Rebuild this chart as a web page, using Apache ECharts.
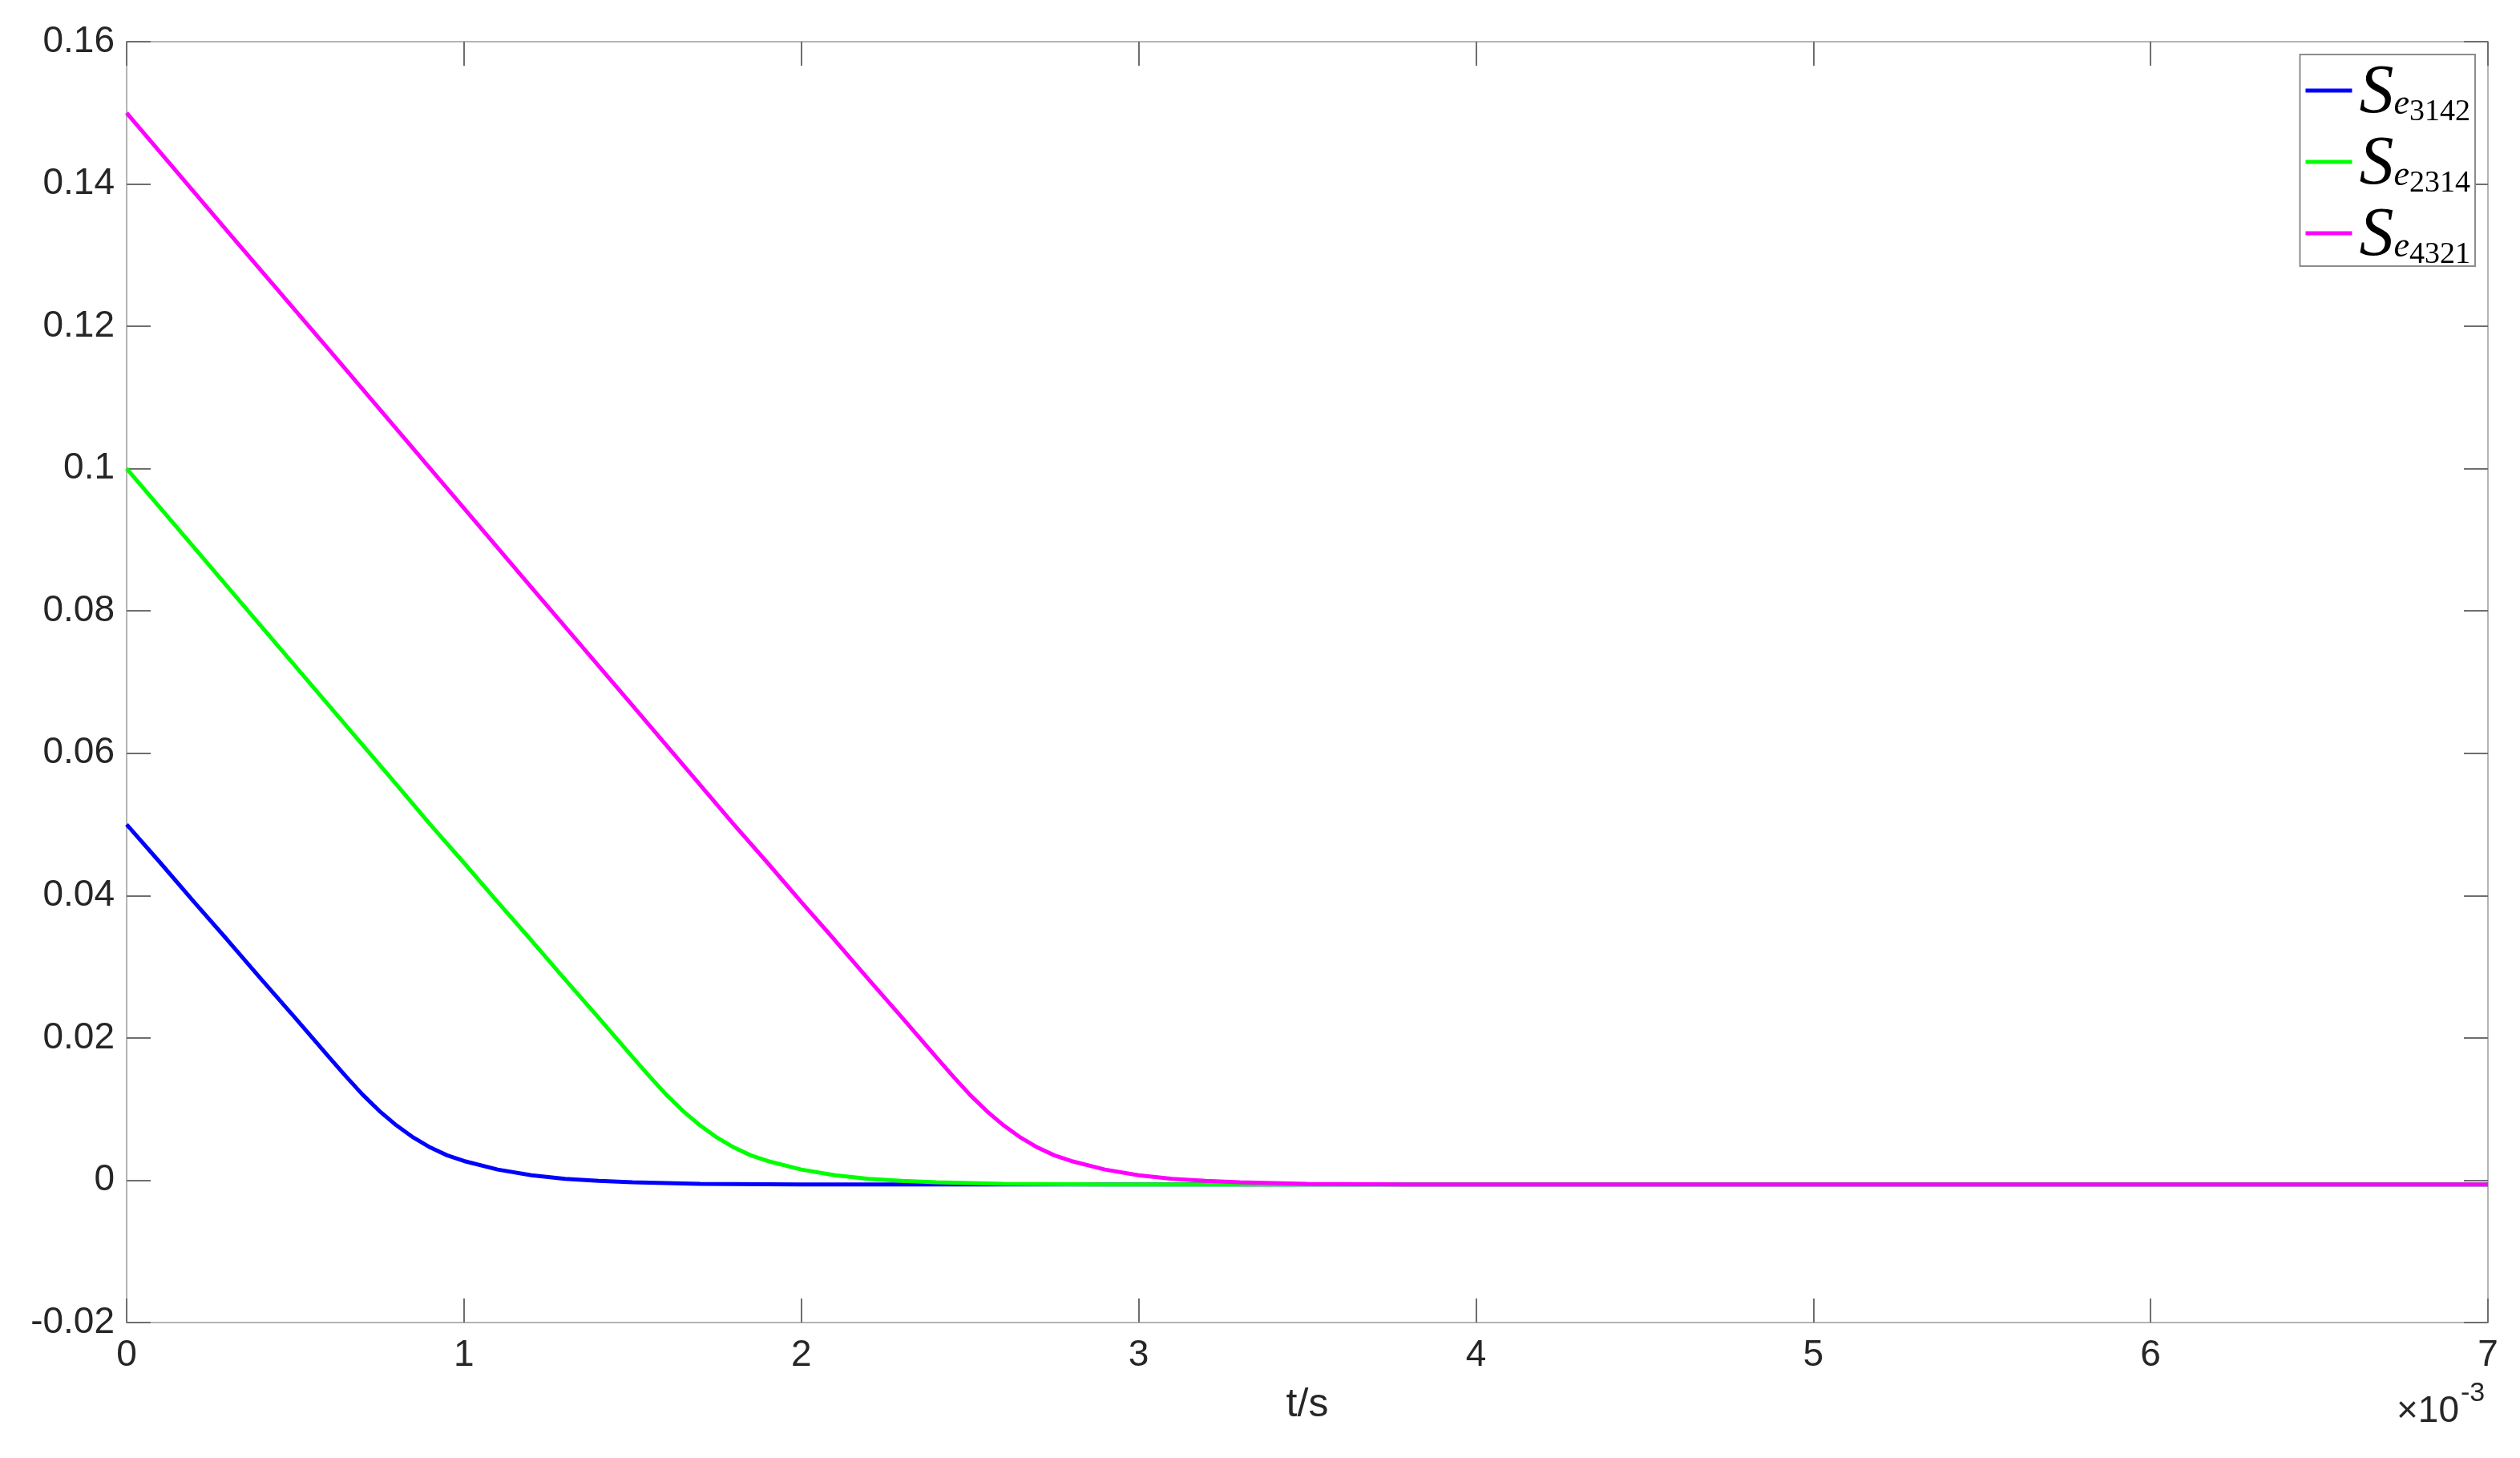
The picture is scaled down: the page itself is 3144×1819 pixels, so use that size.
<!DOCTYPE html>
<html>
<head>
<meta charset="utf-8">
<title>S_e curves</title>
<script src="https://cdn.jsdelivr.net/npm/echarts@6/dist/echarts.min.js"></script>
<style>
  html, body { margin: 0; padding: 0; background: #fff; }
  #chart { width: 3144px; height: 1819px; }
</style>
</head>
<body>
<div id="chart"></div>
<script>
  // time in units of 1e-3 s (axis shows ×10^-3)
  const t3142 = [0, 0.1, 0.2, 0.3, 0.4, 0.5, 0.6, 0.65, 0.7, 0.75, 0.8, 0.85, 0.9, 0.95, 1.0, 1.1, 1.2, 1.3, 1.4, 1.5, 1.7, 2.0, 7.0];
  const s3142 = [0.0500, 0.0446, 0.0391, 0.0337, 0.0282, 0.0228, 0.0173, 0.0146, 0.0120, 0.0097, 0.0077, 0.0060, 0.0046, 0.0035, 0.0027, 0.0015, 0.0007, 0.0002, -0.0001, -0.0003, -0.0005, -0.0006, -0.0006];

  const t2314 = [0, 0.2, 0.4, 0.6, 0.8, 0.9, 1.0, 1.1, 1.2, 1.3, 1.4, 1.5, 1.55, 1.6, 1.65, 1.7, 1.75, 1.8, 1.85, 1.9, 2.0, 2.1, 2.2, 2.3, 2.4, 2.6, 2.9, 7.0];
  const s2314 = [0.1000, 0.0889, 0.0778, 0.0667, 0.0556, 0.0500, 0.0446, 0.0391, 0.0337, 0.0282, 0.0228, 0.0173, 0.0146, 0.0120, 0.0097, 0.0077, 0.0060, 0.0046, 0.0035, 0.0027, 0.0015, 0.0007, 0.0002, -0.0001, -0.0003, -0.0005, -0.0006, -0.0006];

  const t4321 = [0, 0.3, 0.6, 0.9, 1.2, 1.5, 1.8, 1.9, 2.0, 2.1, 2.2, 2.3, 2.4, 2.45, 2.5, 2.55, 2.6, 2.65, 2.7, 2.75, 2.8, 2.9, 3.0, 3.1, 3.2, 3.3, 3.5, 3.8, 7.0];
  const s4321 = [0.1500, 0.1333, 0.1167, 0.1000, 0.0833, 0.0667, 0.0500, 0.0446, 0.0391, 0.0337, 0.0282, 0.0228, 0.0173, 0.0146, 0.0120, 0.0097, 0.0077, 0.0060, 0.0046, 0.0035, 0.0027, 0.0015, 0.0007, 0.0002, -0.0001, -0.0003, -0.0005, -0.0006, -0.0006];

  const seriesNames = ['3142', '2314', '4321'];
  const seriesColors = ['#0000ff', '#00ff00', '#ff00ff'];

  const zip = (xs, ys) => xs.map((x, i) => [x, ys[i]]);
  const data = [zip(t3142, s3142), zip(t2314, s2314), zip(t4321, s4321)];

  const frameColor = '#b4b4b4';
  const tickColor = '#6e6e6e';
  const labelFont = { fontFamily: 'Liberation Sans, Arial, sans-serif', fontSize: 46, color: '#262626' };
  const serif = 'Liberation Serif, DejaVu Serif, serif';
  // legend swatch: a 5px bar sitting at the top of a 27px box (lifts the line above text centre)
  const swatch = 'path://M0,0H58V5H0Z M0,27H0.001V27.001H0Z';

  const xBase = {
    type: 'value', min: 0, max: 7, interval: 1,
    axisLine: { show: true, onZero: false, lineStyle: { color: frameColor, width: 2 } },
    axisTick: { show: true, inside: true, length: 30, lineStyle: { color: tickColor, width: 2 } },
    splitLine: { show: false },
  };
  const yBase = {
    type: 'value', min: -0.02, max: 0.16, interval: 0.02,
    axisLine: { show: true, onZero: false, lineStyle: { color: frameColor, width: 2 } },
    axisTick: { show: true, inside: true, length: 30, lineStyle: { color: tickColor, width: 2 } },
    splitLine: { show: false },
  };

  const chart = echarts.init(document.getElementById('chart'));
  chart.setOption({
    animation: false,
    backgroundColor: '#ffffff',
    grid: { left: 158, right: 40, top: 52, bottom: 169 },
    xAxis: [
      Object.assign({}, xBase, {
        position: 'bottom',
        name: 't/s', nameLocation: 'middle', nameGap: 78,
        nameTextStyle: { fontFamily: 'Liberation Sans, Arial, sans-serif', fontSize: 50, color: '#262626' },
        axisLabel: Object.assign({ margin: 18 }, labelFont),
      }),
      Object.assign({}, xBase, { position: 'top', axisLabel: { show: false } }),
    ],
    yAxis: [
      Object.assign({}, yBase, { position: 'left', axisLabel: Object.assign({ margin: 15 }, labelFont) }),
      Object.assign({}, yBase, { position: 'right', axisLabel: { show: false } }),
    ],
    legend: {
      orient: 'vertical',
      right: 56, top: 68,
      backgroundColor: '#ffffff',
      borderColor: '#8c8c8c', borderWidth: 2,
      padding: [-22, 6, -6, 7],
      itemGap: -25,
      itemWidth: 58, itemHeight: 27,
      icon: swatch,
      data: seriesNames.map((n) => ({ name: n, icon: swatch })),
      formatter: (name) => '{s|S}{e|e}{n|' + name + '}',
      textStyle: {
        rich: {
          s: { fontFamily: serif, fontStyle: 'italic', fontSize: 86, color: '#000', verticalAlign: 'bottom', lineHeight: 66, height: 66, padding: [38, 0, 7, 4] },
          e: { fontFamily: serif, fontStyle: 'italic', fontSize: 44, color: '#000', verticalAlign: 'bottom', lineHeight: 40, height: 40, padding: [0, 0, 7, 0] },
          n: { fontFamily: serif, fontSize: 38, color: '#000', verticalAlign: 'bottom', lineHeight: 34, height: 34, padding: [0, 0, 0, 0] },
        },
      },
    },
    graphic: [
      {
        type: 'text', right: 3144 - 3068, top: 1738,
        style: { text: '×10', fontFamily: 'Liberation Sans, Arial, sans-serif', fontSize: 46, fill: '#262626' },
      },
      {
        type: 'text', left: 3070, top: 1722,
        style: { text: '-3', fontFamily: 'Liberation Sans, Arial, sans-serif', fontSize: 34, fill: '#262626' },
      },
    ],
    series: data.map((d, i) => ({
      name: seriesNames[i],
      type: 'line',
      xAxisIndex: 0, yAxisIndex: 0,
      data: d,
      showSymbol: false,
      smooth: false,
      clip: true,
      lineStyle: { color: seriesColors[i], width: 5 },
      itemStyle: { color: seriesColors[i] },
    })),
  });
</script>
</body>
</html>
